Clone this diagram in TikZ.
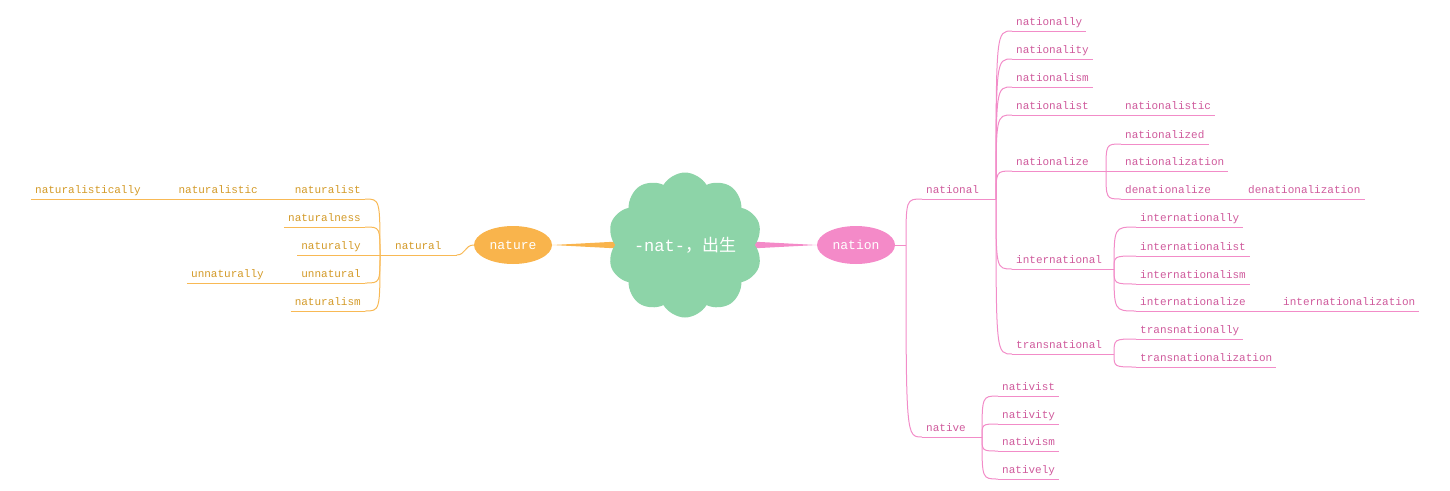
\documentclass[tikz,border=0pt]{standalone}
\usepackage{fontspec}
\usetikzlibrary{shapes.geometric,shapes.symbols,backgrounds}
\newfontfamily\mono{Liberation Mono}
\newfontfamily\cjk{Noto Sans CJK SC}
\definecolor{cloudgreen}{HTML}{8DD4A8}
\definecolor{natorange}{HTML}{F9B44C}
\definecolor{natpink}{HTML}{F48AC8}
\definecolor{goldline}{HTML}{F8B955}
\definecolor{goldtext}{HTML}{D39A28}
\definecolor{pinkline}{HTML}{F28CC8}
\definecolor{pinktext}{HTML}{CF5A9C}
\tikzset{
    word/.style={font=\mono\fontsize{11}{12}\selectfont, inner xsep=4pt, inner ysep=2.5pt,
        text height=7.5pt, text depth=2.5pt},
    rword/.style={word, text=pinktext, anchor=south west},
    lword/.style={word, text=goldtext, anchor=south east},
    rline/.style={draw=pinkline, line width=1pt},
    lline/.style={draw=goldline, line width=1pt},
    mainball/.style={ellipse, minimum width=78pt, minimum height=38pt, inner sep=0pt,
        text=white, font=\mono\fontsize{13}{14}\selectfont},
    rootcloud/.style={cloud, cloud puffs=10, cloud puff arc=120, aspect=1,
        minimum width=155pt, minimum height=145pt, inner sep=0pt, fill=cloudgreen},
    roottext/.style={text=white, font=\mono\fontsize{17}{19}\selectfont, inner sep=0pt}
}
\begin{document}
\begin{tikzpicture}[x=1pt,y=-1pt]
\useasboundingbox (0,0) rectangle (1450,490);
% centre
\node[rootcloud] (root) at (685,245) {};
\node[roottext] (roottitle) at (root.center) {-nat-{\cjk ，出生}};
\node[mainball, fill=natorange] (nature) at (513,245) {nature};
\node[mainball, fill=natpink] (nation) at (856,245) {nation};
\begin{scope}[on background layer]
    \fill[natorange] (nature.east) -- ([yshift=-7pt]root.center) -- ([yshift=7pt]root.center) -- cycle;
    \fill[natpink] (nation.west) -- ([yshift=-7pt]root.center) -- ([yshift=7pt]root.center) -- cycle;
\end{scope}

% left: nature
\node[word, text=goldtext, anchor=south west, inner xsep=15pt] (natural) at (380,255) {natural};
\node[lword] (naturalist) at (365,199) {naturalist};
\node[lword] (naturalistic) at (262,199) {naturalistic};
\node[lword] (naturalistically) at (145,199) {naturalistically};
\node[lword] (naturalness) at (365,227) {naturalness};
\node[lword] (naturally) at (365,255) {naturally};
\node[lword] (unnatural) at (365,283) {unnatural};
\node[lword] (unnaturally) at (268,283) {unnaturally};
\node[lword] (naturalism) at (365,311) {naturalism};

\foreach \w in {natural, naturalist, naturalistic, naturalistically, naturalness,
                naturally, unnatural, unnaturally, naturalism}
    \draw[lline] (\w.south west) -- (\w.south east);
\draw[lline] (nature.west) .. controls +(-9,0) and +(9,0) .. (natural.south east);
\foreach \w in {naturalist, naturalness, unnatural, naturalism}
    \draw[lline] (natural.south west) .. controls (natural.south west |- \w.south east) .. (\w.south east);
\draw[lline] (natural.south west) -- (naturally.south east);
\draw[lline] (naturalist.south west) -- (naturalistic.south east);
\draw[lline] (naturalistic.south west) -- (naturalistically.south east);
\draw[lline] (unnatural.south west) -- (unnaturally.south east);

% right: nation
\node[rword] (national) at (922,199) {national};
\node[rword] (nationally) at (1012,31) {nationally};
\node[rword] (nationality) at (1012,59) {nationality};
\node[rword] (nationalism) at (1012,87) {nationalism};
\node[rword] (nationalist) at (1012,115) {nationalist};
\node[rword] (nationalistic) at (1121,115) {nationalistic};
\node[rword] (nationalize) at (1012,171) {nationalize};
\node[rword] (nationalized) at (1121,144) {nationalized};
\node[rword] (nationalization) at (1121,171) {nationalization};
\node[rword] (denationalize) at (1121,199) {denationalize};
\node[rword] (denationalization) at (1244,199) {denationalization};
\node[rword] (international) at (1012,269) {international};
\node[rword] (internationally) at (1136,227) {internationally};
\node[rword] (internationalist) at (1136,256) {internationalist};
\node[rword] (internationalism) at (1136,284) {internationalism};
\node[rword] (internationalize) at (1136,311) {internationalize};
\node[rword] (internationalization) at (1279,311) {internationalization};
\node[rword] (transnational) at (1012,354) {transnational};
\node[rword] (transnationally) at (1136,339) {transnationally};
\node[rword] (transnationalization) at (1136,367) {transnationalization};
\node[rword] (native) at (922,437) {native};
\node[rword] (nativist) at (998,396) {nativist};
\node[rword] (nativity) at (998,424) {nativity};
\node[rword] (nativism) at (998,451) {nativism};
\node[rword] (natively) at (998,479) {natively};

\foreach \w in {national, nationally, nationality, nationalism, nationalist, nationalistic,
                nationalize, nationalized, nationalization, denationalize, denationalization,
                international, internationally, internationalist, internationalism,
                internationalize, internationalization, transnational, transnationally,
                transnationalization, native, nativist, nativity, nativism, natively}
    \draw[rline] (\w.south west) -- (\w.south east);

\coordinate (nationfork) at (906,245);
\coordinate (nationalfork) at (996,199);
\coordinate (nationalizefork) at (1106,171);
\coordinate (internationalfork) at (1114,269);
\coordinate (transnationalfork) at (1114,354);
\coordinate (nativefork) at (982,437);

\draw[rline] (nation.east) -- (nationfork);
\foreach \w in {national, native}
    \draw[rline] (nationfork) .. controls (nationfork |- \w.south west) .. (\w.south west);
\draw[rline] (national.south east) -- (nationalfork);
\foreach \w in {nationally, nationality, nationalism, nationalist, nationalize,
                international, transnational}
    \draw[rline] (nationalfork) .. controls (nationalfork |- \w.south west) .. (\w.south west);
\draw[rline] (nationalist.south east) -- (nationalistic.south west);
\draw[rline] (nationalize.south east) -- (nationalizefork);
\foreach \w in {nationalized, denationalize}
    \draw[rline] (nationalizefork) .. controls (nationalizefork |- \w.south west) .. (\w.south west);
\draw[rline] (nationalizefork) -- (nationalization.south west);
\draw[rline] (denationalize.south east) -- (denationalization.south west);
\draw[rline] (international.south east) -- (internationalfork);
\foreach \w in {internationally, internationalist, internationalism, internationalize}
    \draw[rline] (internationalfork) .. controls (internationalfork |- \w.south west) .. (\w.south west);
\draw[rline] (internationalize.south east) -- (internationalization.south west);
\draw[rline] (transnational.south east) -- (transnationalfork);
\foreach \w in {transnationally, transnationalization}
    \draw[rline] (transnationalfork) .. controls (transnationalfork |- \w.south west) .. (\w.south west);
\draw[rline] (native.south east) -- (nativefork);
\foreach \w in {nativist, nativity, nativism, natively}
    \draw[rline] (nativefork) .. controls (nativefork |- \w.south west) .. (\w.south west);
\end{tikzpicture}
\end{document}
